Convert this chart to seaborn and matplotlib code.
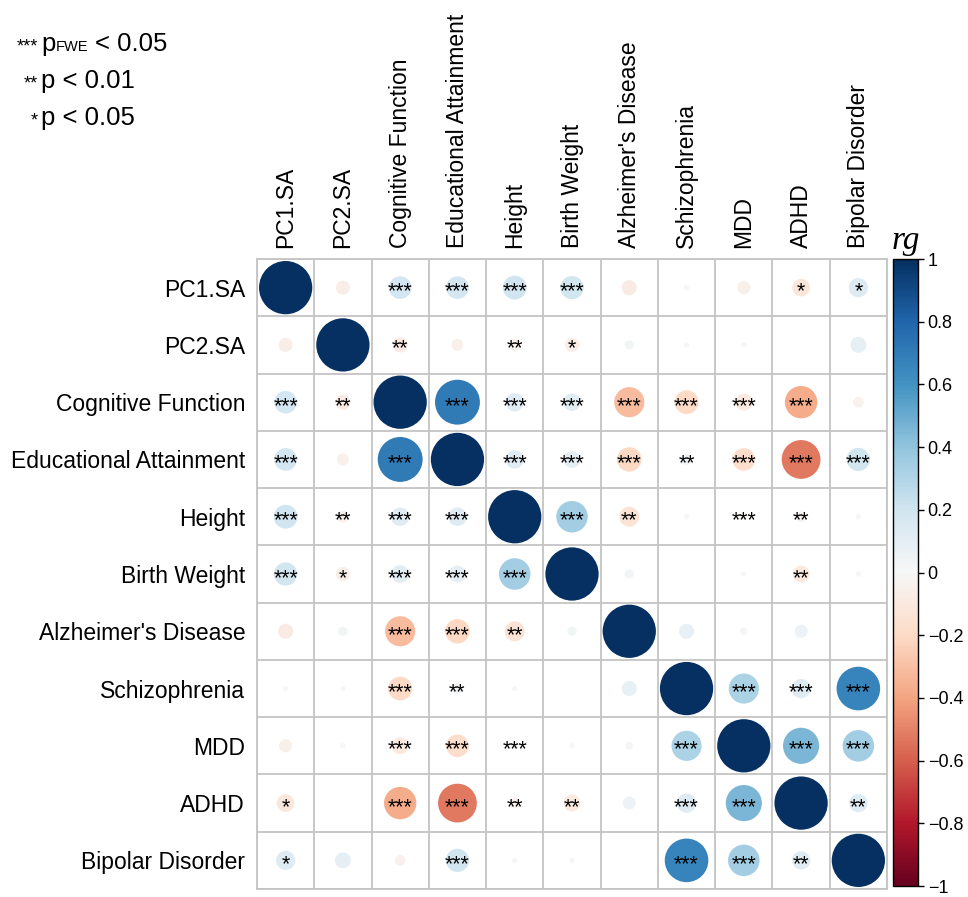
import numpy as np
import pandas as pd
import matplotlib

matplotlib.use("Agg")
import matplotlib.pyplot as plt
import seaborn as sns

traits = [
    "PC1.SA", "PC2.SA", "Cognitive Function", "Educational Attainment",
    "Height", "Birth Weight", "Alzheimer's Disease", "Schizophrenia",
    "MDD", "ADHD", "Bipolar Disorder",
]

# genetic correlations (rows / columns in trait order)
rg_values = [
    [1.00, -0.07, 0.18, 0.18, 0.20, 0.19, -0.08, 0.01, -0.06, -0.11, 0.13],
    [-0.07, 1.00, -0.08, -0.05, -0.05, -0.07, 0.03, 0.01, 0.01, 0.00, 0.09],
    [0.18, -0.08, 1.00, 0.71, 0.12, 0.11, -0.32, -0.20, -0.10, -0.37, -0.04],
    [0.18, -0.05, 0.71, 1.00, 0.12, 0.10, -0.21, 0.04, -0.18, -0.53, 0.19],
    [0.20, -0.05, 0.12, 0.12, 1.00, 0.35, -0.14, 0.01, -0.02, -0.04, 0.01],
    [0.19, -0.07, 0.11, 0.10, 0.35, 1.00, 0.03, 0.00, 0.01, -0.10, 0.01],
    [-0.08, 0.03, -0.32, -0.21, -0.14, 0.03, 1.00, 0.08, 0.02, 0.06, 0.00],
    [0.01, 0.01, -0.20, 0.04, 0.01, 0.00, 0.08, 1.00, 0.32, 0.13, 0.67],
    [-0.06, 0.01, -0.10, -0.18, -0.02, 0.01, 0.02, 0.32, 1.00, 0.46, 0.35],
    [-0.11, 0.00, -0.37, -0.53, -0.04, -0.10, 0.06, 0.13, 0.46, 1.00, 0.12],
    [0.13, 0.09, -0.04, 0.19, 0.01, 0.01, 0.00, 0.67, 0.35, 0.12, 1.00],
]

sig_stars = [
    ["", "", "***", "***", "***", "***", "", "", "", "*", "*"],
    ["", "", "**", "", "**", "*", "", "", "", "", ""],
    ["***", "**", "", "***", "***", "***", "***", "***", "***", "***", ""],
    ["***", "", "***", "", "***", "***", "***", "**", "***", "***", "***"],
    ["***", "**", "***", "***", "", "***", "**", "", "***", "**", ""],
    ["***", "*", "***", "***", "***", "", "", "", "", "**", ""],
    ["", "", "***", "***", "**", "", "", "", "", "", ""],
    ["", "", "***", "**", "", "", "", "", "***", "***", "***"],
    ["", "", "***", "***", "***", "", "", "***", "", "***", "***"],
    ["*", "", "***", "***", "**", "**", "", "***", "***", "", "**"],
    ["*", "", "", "***", "", "", "", "***", "***", "**", ""],
]

cbar_ticks = [1, 0.8, 0.6, 0.4, 0.2, 0, -0.2, -0.4, -0.6, -0.8, -1]
cbar_labels = ["1", "0.8", "0.6", "0.4", "0.2", "0",
               "\u22120.2", "\u22120.4", "\u22120.6", "\u22120.8", "\u22121"]

legend_stars = ["***", "**", "*"]
legend_text = ["< 0.05", "p < 0.01", "p < 0.05"]

W, H = 968, 897


def fx(px):
    return px / W


def fy(py):
    return 1 - py / H


sns.set_style("white")
plt.rcParams["font.family"] = ["Liberation Sans", "DejaVu Sans"]
plt.rcParams["text.color"] = "black"
plt.rcParams["xtick.color"] = "black"
plt.rcParams["ytick.color"] = "black"

n = len(traits)
records = []
for i in range(n):
    for j in range(n):
        r = rg_values[i][j]
        records.append({"col": j, "row": i, "rg": r, "absr": abs(r), "stars": sig_stars[i][j]})
df = pd.DataFrame(records)

fig = plt.figure(figsize=(W / 100, H / 100), dpi=100)
ax = fig.add_axes([fx(257), fy(889), fx(630), 630 / H])

cell_pt = 630 / n * 72 / 100
smax = (0.93 * cell_pt) ** 2
sns.scatterplot(
    data=df, x="col", y="row", hue="rg", size="absr",
    palette="RdBu", hue_norm=(-1, 1), sizes=(0, smax), size_norm=(0, 1),
    linewidth=0, legend=False, ax=ax, zorder=3,
)

for _, rec in df[df["stars"] != ""].iterrows():
    ax.text(rec["col"], rec["row"] + 0.17, rec["stars"], ha="center", va="baseline",
            fontsize=15.5, color="black", zorder=4)

ax.set_xlim(-0.5, n - 0.5)
ax.set_ylim(n - 0.5, -0.5)
ax.set_xticks(range(n))
ax.set_yticks(range(n))
ax.set_xticklabels(traits, rotation=90, fontsize=16.5)
ax.set_yticklabels(traits, fontsize=16.5)
ax.xaxis.tick_top()
ax.tick_params(axis="x", length=0, pad=8)
ax.tick_params(axis="y", length=0, pad=8.5)
ax.set_xticks(np.arange(-0.5, n, 1), minor=True)
ax.set_yticks(np.arange(-0.5, n, 1), minor=True)
ax.tick_params(which="minor", length=0)
ax.grid(which="minor", color="#c4c4c4", linewidth=1.3, zorder=1)
ax.grid(which="major", visible=False)
ax.set_xlabel("")
ax.set_ylabel("")
for sp in ax.spines.values():
    sp.set_color("#c4c4c4")
    sp.set_linewidth(1.3)

# colour bar
cax = fig.add_axes([fx(893), fy(886), fx(25), 627 / H])
sm = plt.cm.ScalarMappable(cmap="RdBu", norm=plt.Normalize(-1, 1))
cb = fig.colorbar(sm, cax=cax, ticks=cbar_ticks)
cb.set_ticklabels(cbar_labels)
cb.ax.tick_params(labelsize=13, length=4, width=1, pad=3)
cb.outline.set_linewidth(1)
cb.outline.set_edgecolor("black")
cax.set_title("rg", fontsize=24, fontstyle="italic", family=["Liberation Serif", "DejaVu Serif"], pad=7)

# significance key
base_y = [51, 88, 125]
for k in range(3):
    fig.text(fx(38), fy(base_y[k]), legend_stars[k], ha="right", va="baseline", fontsize=13)
fig.text(fx(41), fy(base_y[0]), "p", ha="left", va="baseline", fontsize=18.5)
fig.text(fx(55.5), fy(base_y[0]), "FWE", ha="left", va="baseline", fontsize=10.5)
fig.text(fx(95), fy(base_y[0]), legend_text[0], ha="left", va="baseline", fontsize=18.5)
for k in range(1, 3):
    fig.text(fx(41), fy(base_y[k]), legend_text[k], ha="left", va="baseline", fontsize=18.5)

fig.savefig("out.png", dpi=100)
